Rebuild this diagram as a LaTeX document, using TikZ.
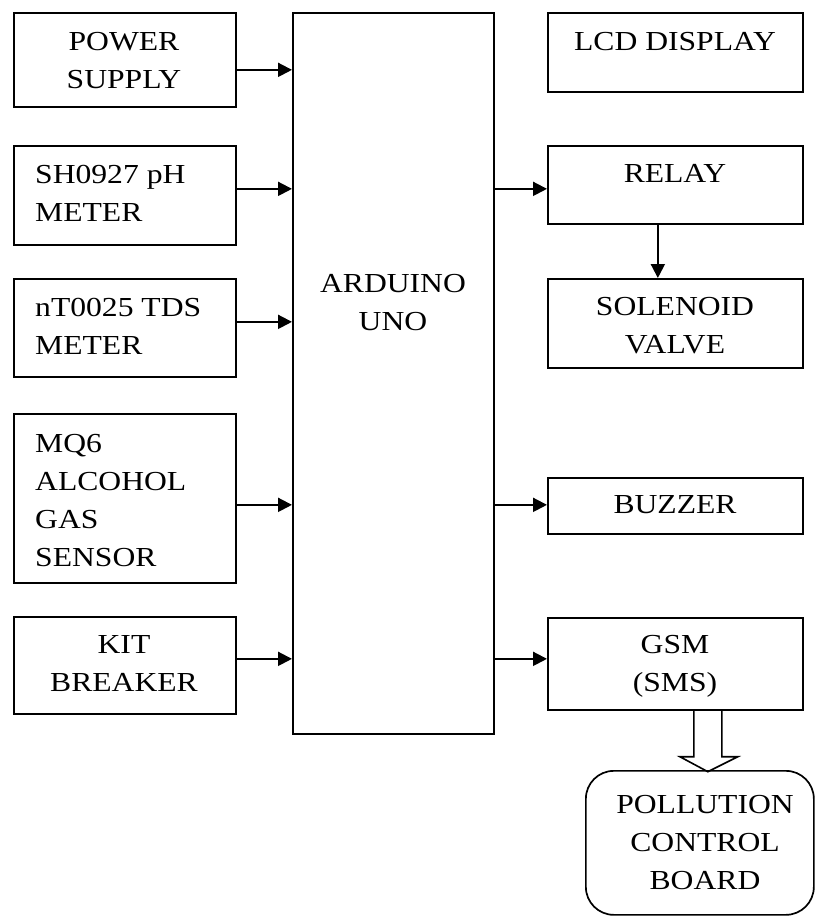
\documentclass[tikz,border=0pt]{standalone}
\usepackage{fontspec}
\setmainfont{Liberation Serif}[FakeStretch=1.15]
\usetikzlibrary{arrows.meta}
\begin{document}
\begin{tikzpicture}[x=1pt,y=-1pt,
 box/.style={draw, line width=1.7pt, inner sep=0, anchor=north west},
 txt/.style={inner sep=0, font=\fontsize{27.5}{38}\selectfont, align=center},
 txtl/.style={txt, align=left},
 arr/.style={line width=2pt, -{Triangle[length=14pt,width=14pt]}}]
\useasboundingbox (0,0) rectangle (815,916);
% boxes
\node[box, minimum width=222pt, minimum height=94pt] (ps) at (13,12) {};
\node[box, minimum width=222pt, minimum height=99pt] (ph) at (13,145) {};
\node[box, minimum width=222pt, minimum height=98pt] (tds) at (13,278) {};
\node[box, minimum width=222pt, minimum height=169pt] (mq) at (13,413) {};
\node[box, minimum width=222pt, minimum height=97pt] (kit) at (13,616) {};
\node[box, minimum width=201pt, minimum height=721pt] (ard) at (292,12) {};
\node[box, minimum width=255pt, minimum height=79pt] (lcd) at (547,12) {};
\node[box, minimum width=255pt, minimum height=78pt] (relay) at (547,145) {};
\node[box, minimum width=255pt, minimum height=89pt] (sol) at (547,278) {};
\node[box, minimum width=255pt, minimum height=56pt] (buz) at (547,477) {};
\node[box, minimum width=255pt, minimum height=92pt] (gsm) at (547,617) {};
\node[box, rounded corners=28pt, minimum width=228pt, minimum height=144pt] (pcb) at (585,770) {};
% texts
\node[txt, anchor=north] (tps) at (124,32) {POWER\\SUPPLY};
\node[txtl, anchor=north west] (tph) at (35,165) {SH0927 pH\\METER};
\node[txtl, anchor=north west] (ttds) at (35,298) {nT0025 TDS\\METER};
\node[txtl, anchor=north west] (tmq) at (35,434) {MQ6\\ALCOHOL\\GAS\\SENSOR};
\node[txt, anchor=north] (tkit) at (124,635) {KIT\\BREAKER};
\node[txt, anchor=north] (tard) at (393,274) {ARDUINO\\UNO};
\node[txt, anchor=north] (tlcd) at (675,32) {LCD DISPLAY};
\node[txt, anchor=north] (trelay) at (675,164) {RELAY};
\node[txt, anchor=north] (tsol) at (675,297) {SOLENOID\\VALVE};
\node[txt, anchor=north] (tbuz) at (675,495) {BUZZER};
\node[txt, anchor=north] (tgsm) at (675,635) {GSM\\(SMS)};
\node[txt, anchor=north] (tpcb) at (705,795) {POLLUTION\\CONTROL\\BOARD};
% arrows
\path ([yshift=-10pt]ps.east) coordinate (a1)
      ([yshift=6.5pt]ph.east) coordinate (a2)
      ([yshift=6pt]tds.east) coordinate (a3)
      ([yshift=-6.5pt]mq.east) coordinate (a4)
      ([yshift=6.5pt]kit.east) coordinate (a5)
      ([yshift=-4pt]relay.west) coordinate (b1)
      ([yshift=1pt]buz.west) coordinate (b2)
      ([yshift=5pt]gsm.west) coordinate (b3)
      ([xshift=-17.5pt]relay.south) coordinate (c1);
\draw[arr] (a1) -- (a1 -| ard.west);
\draw[arr] (a2) -- (a2 -| ard.west);
\draw[arr] (a3) -- (a3 -| ard.west);
\draw[arr] (a4) -- (a4 -| ard.west);
\draw[arr] (a5) -- (a5 -| ard.west);
\draw[arr] (b1 -| ard.east) -- (b1);
\draw[arr] (b2 -| ard.east) -- (b2);
\draw[arr] (b3 -| ard.east) -- (b3);
\draw[arr] (c1) -- (c1 |- sol.north);
% hollow arrow
\draw[line width=1.6pt, line join=miter] ([xshift=18.5pt]gsm.south) -- ++(0,46) -- ++(-14,0) -- ++(28,15) -- ++(30,-15) -- ++(-16,0) -- ++(0,-46);
\end{tikzpicture}
\end{document}
